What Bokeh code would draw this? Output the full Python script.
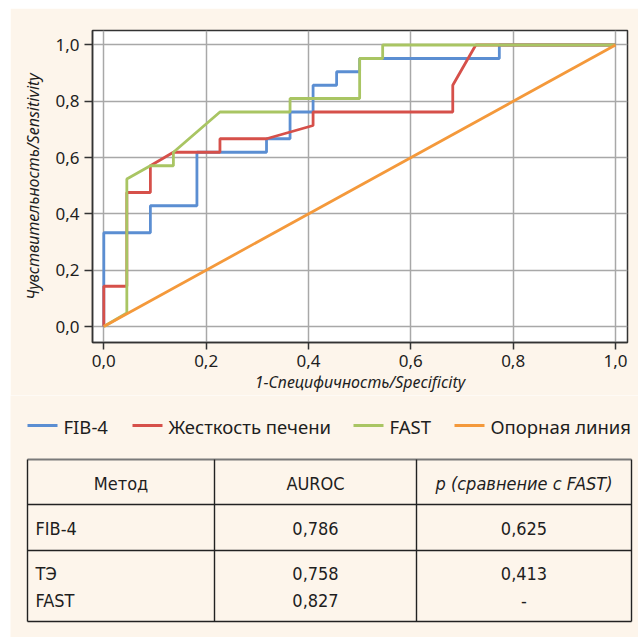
from bokeh.plotting import figure
from bokeh.models import Range1d, FixedTicker, CustomJSTickFormatter, Spacer
from bokeh.layouts import column, row
from bokeh.embed import file_html
from bokeh.resources import INLINE
from bokeh.core.properties import value

# ---- ROC data (1-specificity, sensitivity) ----
fib4_fpr = [0, 0, 0.091, 0.091, 0.182, 0.182, 0.318, 0.318, 0.364, 0.364, 0.409, 0.409,
            0.455, 0.455, 0.5, 0.5, 0.773, 0.773, 1.0]
fib4_tpr = [0, 0.333, 0.333, 0.429, 0.429, 0.619, 0.619, 0.667, 0.667, 0.762, 0.762, 0.857,
            0.857, 0.905, 0.905, 0.952, 0.952, 1.0, 1.0]

te_fpr = [0, 0, 0.045, 0.045, 0.091, 0.091, 0.136, 0.227, 0.227, 0.318, 0.409, 0.409,
          0.682, 0.682, 0.727, 1.0]
te_tpr = [0, 0.143, 0.143, 0.476, 0.476, 0.571, 0.619, 0.619, 0.667, 0.667, 0.714, 0.762,
          0.762, 0.857, 1.0, 1.0]

fast_fpr = [0, 0.045, 0.045, 0.091, 0.136, 0.136, 0.227, 0.364, 0.364, 0.5, 0.5, 0.545, 0.545, 1.0]
fast_tpr = [0, 0.048, 0.524, 0.571, 0.571, 0.619, 0.762, 0.762, 0.810, 0.810, 0.952, 0.952, 1.0, 1.0]

ref_fpr = [0, 1]
ref_tpr = [0, 1]

series_names = ["FIB-4", "Жесткость печени", "FAST", "Опорная линия"]
series_colors = ["#5b8ed2", "#d6504a", "#a9c563", "#f4993b"]

axis_ticks = [0.0, 0.2, 0.4, 0.6, 0.8, 1.0]
x_title = "1-Специфичность/Specificity"
y_title = "Чувствительность/Sensitivity"

# ---- table data ----
table_header = ["Метод", "AUROC", "p (сравнение с FAST)"]
table_method = ["FIB-4", "ТЭ", "FAST"]
table_auroc = [0.786, 0.758, 0.827]
table_p = [0.625, 0.413, None]

CREAM = "#fdf5eb"
TXT = "#1e1e1e"

# ---------------- ROC figure (page x 10..638, y 8..395) ----------------
p = figure(width=628, height=387,
           x_range=Range1d(-0.0221, 1.0235), y_range=Range1d(-0.0568, 1.0515),
           output_backend="svg", toolbar_location=None,
           min_border_left=82, min_border_right=11, min_border_top=22, min_border_bottom=53)
p.background_fill_color = "white"
p.border_fill_color = CREAM
p.outline_line_color = "#333333"
p.outline_line_width = 1.5

fmt = CustomJSTickFormatter(code="return tick.toFixed(1).replace('.', ',');")
for ax in (p.xaxis[0], p.yaxis[0]):
    ax.ticker = FixedTicker(ticks=axis_ticks)
    ax.formatter = fmt
    ax.minor_tick_line_color = None
    ax.major_tick_in = 0
    ax.major_tick_line_color = "#333333"
    ax.major_tick_line_width = 1.5
    ax.axis_line_color = "#333333"
    ax.axis_line_width = 1.5
    ax.major_label_text_font = "Noto Sans"
    ax.major_label_text_font_size = "17px"
    ax.major_label_text_color = TXT
    ax.axis_label_text_font = "Noto Sans"
    ax.axis_label_text_font_size = "16px"
    ax.axis_label_text_font_style = "italic"
    ax.axis_label_text_color = TXT

p.xaxis.major_tick_out = 7
p.yaxis.major_tick_out = 8
p.xaxis.major_label_standoff = 5
p.xaxis.axis_label_standoff = 1
p.yaxis.major_label_standoff = 5
p.yaxis.axis_label_standoff = 8
p.xaxis.axis_label = x_title
p.yaxis.axis_label = y_title

for g in (p.xgrid[0], p.ygrid[0]):
    g.ticker = FixedTicker(ticks=axis_ticks)
    g.grid_line_color = "#a8a8a8"
    g.grid_line_width = 1.5

curves = [(fib4_fpr, fib4_tpr), (te_fpr, te_tpr), (fast_fpr, fast_tpr), (ref_fpr, ref_tpr)]
for (xs, ys), c in zip(curves, series_colors):
    p.line(xs, ys, line_color=c, line_width=2.8)

# ---------------- legend + table (page x 10..638, y 395..637) ----------------
t = figure(width=628, height=242, x_range=Range1d(10, 638), y_range=Range1d(637, 395),
           output_backend="svg", toolbar_location=None,
           min_border_left=0, min_border_right=0, min_border_top=0, min_border_bottom=0)
t.background_fill_color = CREAM
t.border_fill_color = CREAM
t.outline_line_color = None
t.axis.visible = False
t.grid.visible = False

# legend
leg_y = 425
leg_x0 = [27, 132, 353, 454]
t.segment(x0=leg_x0, y0=[leg_y] * 4, x1=[x + 30 for x in leg_x0], y1=[leg_y] * 4,
          line_color=series_colors, line_width=3)
t.text(x=[x + 36 for x in leg_x0], y=[leg_y + 1] * 4, text=series_names,
       text_font=value("Noto Sans"), text_font_size="18.5px", text_color=TXT,
       text_baseline="middle", text_align="left")

# table grid
col_x = [27, 214, 416, 631]
row_y = [459, 504, 550, 621]
t.segment(x0=[col_x[0]] * 3, y0=row_y[1:], x1=[col_x[-1]] * 3, y1=row_y[1:],
          line_color="#222222", line_width=1.4)
t.segment(x0=[col_x[0]], y0=[row_y[0]], x1=[col_x[-1]], y1=[row_y[0]],
          line_color="#7a7a7a", line_width=2)
t.segment(x0=col_x, y0=[row_y[0]] * 4, x1=col_x, y1=[row_y[-1]] * 4,
          line_color="#222222", line_width=1.4)

TF = value("'DejaVu Sans Condensed', Roboto")
TS = "18px"
centers = [(col_x[i] + col_x[i + 1]) / 2 for i in range(3)]
# header
t.text(x=centers[:2], y=[483, 483], text=table_header[:2], text_font=TF,
       text_font_size=TS, text_color=TXT, text_align="center", text_baseline="middle")
t.text(x=[centers[2]], y=[483], text=[table_header[2]], text_font=TF,
       text_font_size=TS, text_font_style="italic", text_color=TXT,
       text_align="center", text_baseline="middle")

row_text_y = [528, 573, 600]
fmt3 = lambda v: "-" if v is None else f"{v:.3f}".replace(".", ",")
t.text(x=[35] * 3, y=row_text_y, text=table_method, text_font=TF, text_font_size=TS,
       text_color=TXT, text_align="left", text_baseline="middle")
t.text(x=[centers[1]] * 3, y=row_text_y, text=[fmt3(v) for v in table_auroc], text_font=TF,
       text_font_size=TS, text_color=TXT, text_align="center", text_baseline="middle")
t.text(x=[centers[2]] * 3, y=row_text_y, text=[fmt3(v) for v in table_p], text_font=TF,
       text_font_size=TS, text_color=TXT, text_align="center", text_baseline="middle")

top_part = column(Spacer(height=8), row(Spacer(width=10), p))
bottom_part = row(Spacer(width=10), t)
open("out.html", "w").write(file_html([top_part, bottom_part], INLINE))
